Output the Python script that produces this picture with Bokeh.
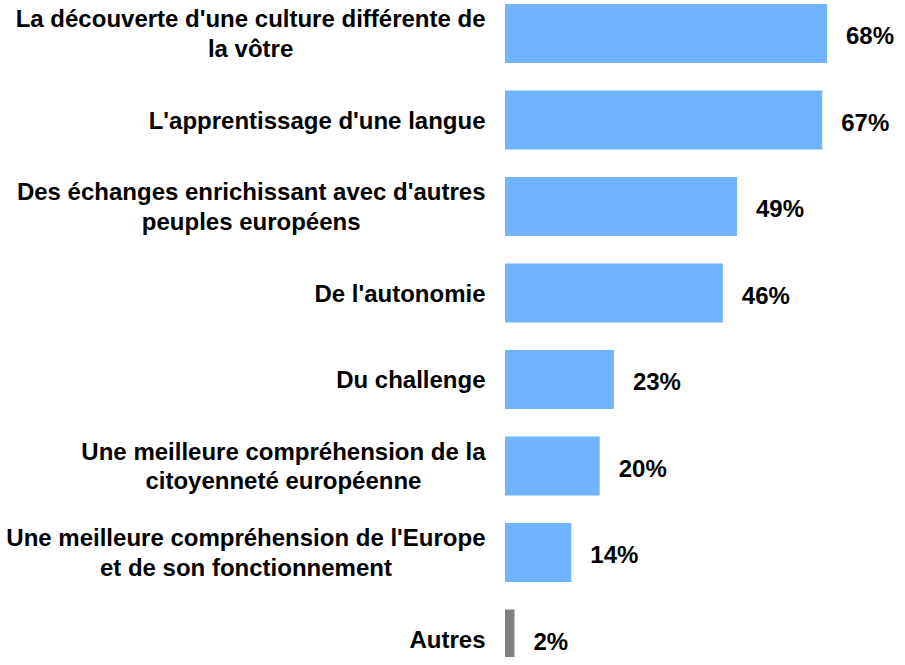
from bokeh.plotting import figure
from bokeh.models import ColumnDataSource, Range1d
from bokeh.core.properties import value
from bokeh.embed import file_html
from bokeh.resources import INLINE

# ---- data ----
categories = [
    "La découverte d'une culture différente de\nla vôtre",
    "L'apprentissage d'une langue",
    "Des échanges enrichissant avec d'autres\npeuples européens",
    "De l'autonomie",
    "Du challenge",
    "Une meilleure compréhension de la\ncitoyenneté européenne",
    "Une meilleure compréhension de l'Europe\net de son fonctionnement",
    "Autres",
]
values = [68, 67, 49, 46, 23, 20, 14, 2]
value_labels = ["68%", "67%", "49%", "46%", "23%", "20%", "14%", "2%"]
bar_colors = ["#70B4FF"] * 7 + ["#808080"]

# ---- layout helpers (Arial/Liberation Sans Bold advance widths, per 1000 em) ----
FONT = "Liberation Sans"
FONT_PX = 24
W = {' ': 278, "'": 238, '%': 889, 'a': 556, 'b': 611, 'c': 556, 'd': 611, 'e': 556,
     'f': 333, 'g': 611, 'h': 611, 'i': 278, 'j': 278, 'k': 556, 'l': 278, 'm': 889,
     'n': 611, 'o': 611, 'p': 611, 'q': 611, 'r': 389, 's': 556, 't': 333, 'u': 611,
     'v': 556, 'w': 778, 'x': 556, 'y': 556, 'z': 500, 'é': 556, 'ô': 611, 'è': 556,
     'A': 722, 'C': 722, 'D': 722, 'E': 667, 'L': 611, 'U': 722}


def block_width(txt):
    return max(sum(W.get(ch, 556) for ch in line) for line in txt.split("\n")) * FONT_PX / 1000.0


GAP = 19.5  # px between label block and bar base
label_offsets = [-(GAP + block_width(c) / 2.0) for c in categories]

ypos = list(range(len(categories)))
src = ColumnDataSource(dict(
    y=ypos, v=values, cat=categories, lab=value_labels, col=bar_colors,
    zero=[0] * len(values), xoff=label_offsets,
))

PW, PH = 897, 657
SCALE = 4.735      # px per percent
X0 = 504.5         # px of bar base from plot left
TOP = 33.0         # px of first bar centre from plot top
STEP = 86.5        # px between bars

p = figure(width=PW, height=PH, output_backend="svg", toolbar_location=None,
           x_range=Range1d(-X0 / SCALE, (PW - X0) / SCALE),
           y_range=Range1d((PH - TOP) / STEP, -TOP / STEP),
           min_border=0, outline_line_color=None)
p.axis.visible = False
p.grid.visible = False
p.background_fill_color = "white"
p.border_fill_color = "white"

p.hbar(y="y", left="zero", right="v", height=59 / STEP, fill_color="col",
       line_color=None, source=src)

p.text(x="zero", y="y", text="cat", x_offset="xoff", source=src,
       text_align="center", text_baseline="middle", text_line_height=1.1,
       text_font=value(FONT), text_font_style="bold", text_font_size=f"{FONT_PX}px",
       text_color="black")

p.text(x="v", y="y", text="lab", x_offset=19, y_offset=2, source=src,
       text_align="left", text_baseline="middle",
       text_font=value(FONT), text_font_style="bold", text_font_size=f"{FONT_PX}px",
       text_color="black")

open("out.html", "w").write(file_html(p, INLINE))
